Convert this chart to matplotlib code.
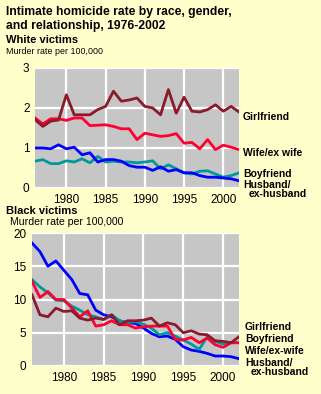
import matplotlib
matplotlib.use("Agg")
import matplotlib.pyplot as plt

years = list(range(1976, 2003))

white_girlfriend = [1.71, 1.54, 1.67, 1.70, 2.33, 1.83, 1.83, 1.83, 1.96, 2.04, 2.42, 2.17, 2.20, 2.25,
                    2.04, 2.00, 1.83, 2.46, 1.87, 2.27, 1.92, 1.90, 1.96, 2.08, 1.92, 2.04, 1.90]
white_wife = [1.75, 1.60, 1.73, 1.73, 1.69, 1.75, 1.75, 1.56, 1.57, 1.58, 1.54, 1.48, 1.48, 1.21,
              1.37, 1.33, 1.29, 1.31, 1.36, 1.12, 1.14, 0.98, 1.21, 0.96, 1.07, 1.02, 0.96]
white_boyfriend = [0.67, 0.71, 0.61, 0.61, 0.68, 0.65, 0.73, 0.63, 0.79, 0.65, 0.67, 0.65, 0.65, 0.63,
                   0.65, 0.68, 0.48, 0.58, 0.48, 0.38, 0.35, 0.42, 0.43, 0.35, 0.27, 0.31, 0.38]
white_husband = [1.00, 1.00, 0.98, 1.08, 0.98, 1.02, 0.83, 0.88, 0.65, 0.71, 0.71, 0.67, 0.56, 0.52,
                 0.52, 0.44, 0.53, 0.42, 0.46, 0.38, 0.38, 0.31, 0.27, 0.27, 0.25, 0.23, 0.18]

black_girlfriend = [10.7, 7.7, 7.4, 8.7, 8.2, 8.3, 7.2, 6.9, 7.2, 7.0, 7.7, 6.2, 6.8, 6.8,
                    6.9, 7.2, 6.0, 6.5, 6.2, 5.0, 5.3, 4.8, 4.7, 3.8, 3.7, 3.5, 4.4]
black_boyfriend = [13.0, 11.9, 11.0, 9.9, 9.8, 9.0, 8.4, 7.7, 7.4, 7.0, 7.7, 6.8, 6.5, 6.7,
                   6.3, 5.7, 4.7, 5.0, 4.5, 3.9, 3.3, 2.5, 4.4, 3.7, 3.3, 3.5, 3.5]
black_wife = [12.7, 10.3, 11.2, 10.0, 10.0, 8.7, 7.4, 8.3, 6.0, 6.2, 6.8, 6.2, 6.2, 5.7,
              5.9, 6.0, 6.0, 6.0, 4.0, 3.9, 4.3, 3.5, 4.2, 3.2, 2.8, 3.5, 3.5]
black_husband = [18.5, 17.2, 15.0, 15.8, 14.4, 13.0, 10.9, 10.7, 8.4, 7.7, 7.4, 6.8, 6.5, 6.4,
                 5.7, 4.9, 4.4, 4.5, 4.0, 2.9, 2.4, 2.2, 1.9, 1.5, 1.5, 1.4, 1.1]

xticks = [1980, 1985, 1990, 1995, 2000]
white_yticks = [0, 1, 2, 3]
black_yticks = [0, 5, 10, 15, 20]

C_GF = "#8B1A2A"
C_WIFE = "#FF0033"
C_BF = "#009999"
C_HUS = "#0000FF"
BG = "#FFFFCC"
PLOT_BG = "#C6C6C6"

W, H = 321, 394
fig = plt.figure(figsize=(W / 100, H / 100), dpi=100, facecolor=BG)
plt.rcParams['font.family'] = ['Liberation Sans', 'DejaVu Sans']


def ax_rect(left, top, right, bottom):
    return [left / W, 1 - bottom / H, (right - left) / W, (bottom - top) / H]


def style(ax, ymax, yticks):
    ax.set_facecolor(PLOT_BG)
    ax.set_xlim(1976, 2002)
    ax.set_ylim(0, ymax)
    ax.set_xticks(xticks)
    ax.set_yticks(yticks)
    ax.grid(True, color="white", linewidth=1.6)
    ax.set_axisbelow(True)
    for s in ax.spines.values():
        s.set_visible(False)
    ax.tick_params(length=0, labelsize=8.5, colors="black", pad=4)


lw = 2.0

ax1 = fig.add_axes(ax_rect(35, 68, 239, 188))
style(ax1, 3, white_yticks)
ax1.plot(years, white_boyfriend, color=C_BF, lw=lw)
ax1.plot(years, white_husband, color=C_HUS, lw=lw)
ax1.plot(years, white_wife, color=C_WIFE, lw=lw)
ax1.plot(years, white_girlfriend, color=C_GF, lw=lw)

ax2 = fig.add_axes(ax_rect(32, 233, 239, 366))
style(ax2, 20, black_yticks)
ax2.plot(years, black_husband, color=C_HUS, lw=lw)
ax2.plot(years, black_boyfriend, color=C_BF, lw=lw)
ax2.plot(years, black_wife, color=C_WIFE, lw=lw)
ax2.plot(years, black_girlfriend, color=C_GF, lw=lw)


def ftext(x, y, s, size, weight="normal", **kw):
    fig.text(x / W, 1 - y / H, s, fontsize=size, fontweight=weight,
             va="center", ha="left", **kw)


ftext(6, 12, "Intimate homicide rate by race, gender,", 8.7, "bold")
ftext(6, 26, "and relationship, 1976-2002", 8.7, "bold")
ftext(6, 40, "White victims", 8.0, "bold")
ftext(6, 51, "Murder rate per 100,000", 6.4)

ftext(6, 211, "Black victims", 8.0, "bold")
ftext(10, 222, "Murder rate per 100,000", 7.6)

lab = 7.5
ftext(243, 117, "Girlfriend", lab, "bold")
ftext(243, 153, "Wife/ex wife", lab, "bold")
ftext(243, 174, "Boyfriend", lab, "bold")
ftext(243, 185, "Husband/", lab, "bold")
ftext(249, 194, "ex-husband", lab, "bold")

ftext(245, 327, "Girlfriend", lab, "bold")
ftext(245, 339, "Boyfriend", lab, "bold")
ftext(245, 351, "Wife/ex-wife", lab, "bold")
ftext(245, 363, "Husband/", lab, "bold")
ftext(251, 372, "ex-husband", lab, "bold")

fig.savefig("out.png", dpi=100, facecolor=BG)
